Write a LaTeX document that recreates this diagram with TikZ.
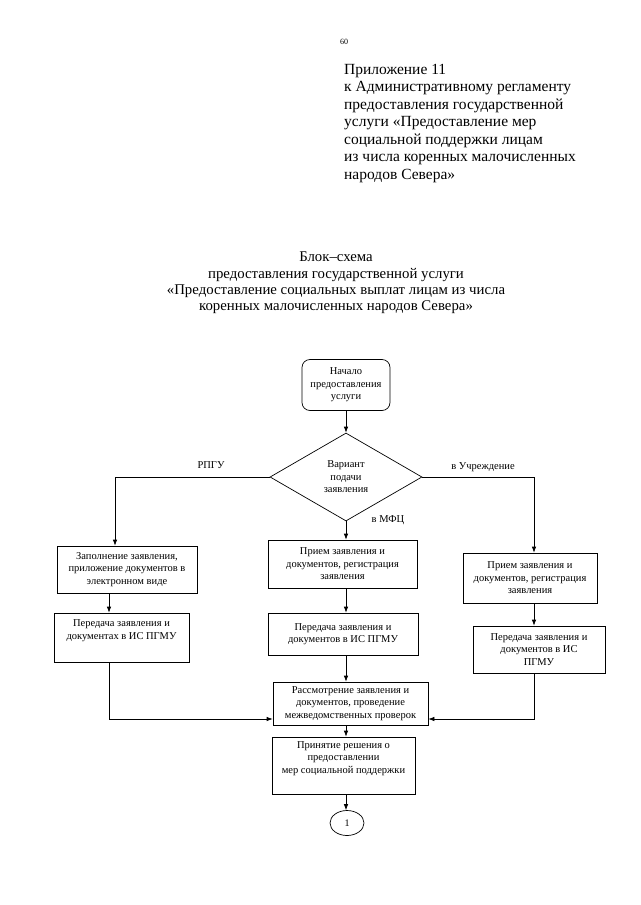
\documentclass[tikz,border=0pt]{standalone}
\usepackage{fontspec}
\setmainfont{Liberation Serif}
\usetikzlibrary{shapes.geometric, arrows.meta}

\begin{document}
\begin{tikzpicture}[x=1pt, y=-1pt,
  box/.style={rectangle, draw, line width=0.7pt, align=center, inner sep=2pt, font=\fontsize{10.5}{12.5}\selectfont},
  arr/.style={-{Latex[length=6pt,width=4.5pt]}, line width=0.7pt},
  lbl/.style={font=\fontsize{10.5}{12.5}\selectfont}]
\useasboundingbox (0,0) rectangle (640,905);

% Page header
\node[font=\fontsize{8}{9}\selectfont] (pnum) at (344,42) {60};
\node[anchor=north west, inner sep=0pt, align=left, font=\fontsize{15.5}{17.5}\selectfont] (hdr) at (344,64)
  {Приложение 11\\к Административному регламенту\\предоставления государственной\\услуги «Предоставление мер\\социальной поддержки лицам\\из числа коренных малочисленных\\народов Севера»};

% Title
\node[align=center, font=\fontsize{14.8}{16.3}\selectfont] (ttl) at (336,283)
  {Блок–схема\\предоставления государственной услуги\\«Предоставление социальных выплат лицам из числа\\коренных малочисленных народов Севера»};

% Start and choice
\node[box, rounded corners=8pt, minimum width=88pt, minimum height=51pt] (start) at (346,385) {Начало\\предоставления\\услуги};
\node[diamond, draw, line width=0.7pt, inner sep=0pt, minimum width=152pt, minimum height=88pt, align=center, font=\fontsize{10.5}{12.5}\selectfont] (var) at (346,477) {Вариант\\подачи\\заявления};

% Left column
\node[box, minimum width=140pt, minimum height=47pt] (lb1) at (127,569.5) {Заполнение заявления,\\приложение документов в\\электронном виде};
\node[box, minimum width=135pt, minimum height=49pt] (lb2) at (121.5,637.5) {Передача заявления и\\документах в ИС ПГМУ\\\strut};

% Middle column
\node[box, minimum width=149pt, minimum height=48pt] (mb1) at (342.5,564) {Прием заявления и\\документов, регистрация\\заявления};
\node[box, minimum width=150pt, minimum height=42pt] (mb2) at (343,634) {Передача заявления и\\документов в ИС ПГМУ};
\node[box, minimum width=155pt, minimum height=43pt] (rev) at (350.5,703.5) {Рассмотрение заявления и\\документов, проведение\\межведомственных проверок};
\node[box, minimum width=143pt, minimum height=57pt] (dec) at (343.5,765.5) {Принятие решения о\\предоставлении\\мер социальной поддержки\\\strut};
\node[ellipse, draw, line width=0.7pt, minimum width=34pt, minimum height=25pt, inner sep=0pt, font=\fontsize{10}{12}\selectfont] (one) at (347,823) {1};

% Right column
\node[box, minimum width=134pt, minimum height=50pt] (rb1) at (530,578) {Прием заявления и\\документов, регистрация\\заявления};
\node[box, minimum width=132pt, minimum height=47pt] (rb2) at (539,649.5) {Передача заявления и\\документов в ИС\\ПГМУ};

% Turning points
\coordinate (lturn) at (115,0);
\coordinate (lcol) at (109,0);
\coordinate (rturn) at (534,0);
\coordinate (lowrow) at (0,719);

% Connectors
\draw[arr] (start) -- (var);
\draw[arr] (var.south) -- (mb1.north -| var);
\draw[arr] (mb1.south -| var) -- (mb2.north -| var);
\draw[arr] (mb2.south -| var) -- (rev.north -| var);
\draw[arr] (rev.south -| var) -- (dec.north -| var);
\draw[arr] (dec.south -| var) -- (one.north -| var);

\draw[arr] (var.west) -- (var.west -| lturn) -- (lturn |- lb1.north);
\draw[arr] (lb1.south -| lcol) -- (lb2.north -| lcol);
\draw[arr] (lb2.south -| lcol) |- (rev.west |- lowrow);

\draw[arr] (var.east) -- (var.east -| rturn) -- (rturn |- rb1.north);
\draw[arr] (rb1.south -| rturn) -- (rb2.north -| rturn);
\draw[arr] (rb2.south -| rturn) |- (rev.east |- lowrow);

% Labels
\node[lbl] (lrpgu) at (211,465) {РПГУ};
\node[lbl] (luch) at (483,467) {в Учреждение};
\node[lbl] (lmfc) at (388,520) {в МФЦ};
\end{tikzpicture}
\end{document}
